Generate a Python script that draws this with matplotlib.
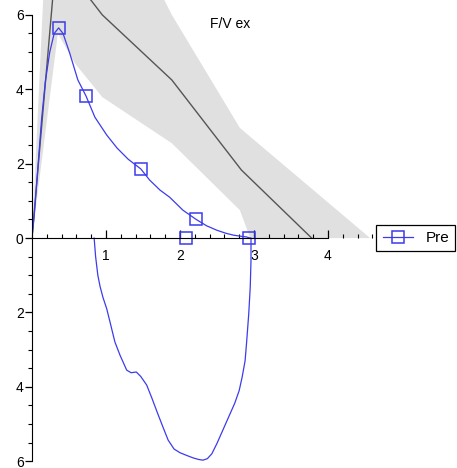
import numpy as np
import matplotlib.pyplot as plt
from matplotlib.ticker import MultipleLocator, FuncFormatter

# predicted curve (off the top of the chart near the peak)
pred_vol = [0.0, 0.33, 0.95, 1.89, 2.83, 3.78]
pred_flow = [0.0, 7.6, 6.0, 4.25, 1.83, 0.0]

# predicted normal band
band_up_vol = [0.0, 0.2, 1.0, 1.89, 2.81, 4.57]
band_up_flow = [0.0, 8.5, 9.5, 6.0, 2.96, 0.0]
band_lo_vol = [0.0, 0.35, 0.58, 0.95, 1.89, 2.81, 2.95]
band_lo_flow = [0.0, 5.5, 4.7, 3.79, 2.55, 0.75, 0.0]

# measured expiration (Pre)
ex_vol = [0.0, 0.03, 0.08, 0.13, 0.18, 0.24, 0.3, 0.36, 0.42, 0.51, 0.62, 0.73,
          0.85, 1.01, 1.15, 1.3, 1.47, 1.59, 1.73, 1.86, 2.04, 2.22, 2.36,
          2.5, 2.62, 2.72, 2.82, 2.9, 2.95]
ex_flow = [0.0, 0.6, 1.9, 3.2, 4.2, 5.0, 5.5, 5.65, 5.5, 4.97, 4.25, 3.82,
           3.25, 2.77, 2.42, 2.12, 1.86, 1.56, 1.29, 1.1, 0.75, 0.5, 0.33,
           0.21, 0.13, 0.08, 0.05, 0.03, 0.0]
ex_mark_vol = [0.36, 0.73, 1.47, 2.22, 2.93]
ex_mark_flow = [5.65, 3.82, 1.85, 0.5, 0.0]
fev1_vol = [2.08]
fev1_flow = [0.0]

# measured inspiration
in_vol = [0.84, 0.86, 0.89, 0.92, 0.96, 1.01, 1.06, 1.12, 1.19, 1.28, 1.34,
          1.41, 1.47, 1.55, 1.62, 1.69, 1.77, 1.84, 1.92, 2.0, 2.1, 2.18,
          2.25, 2.31, 2.37, 2.43, 2.5, 2.58, 2.66, 2.74, 2.8, 2.84, 2.88,
          2.9, 2.93, 2.95, 2.96, 2.96]
in_flow = [0.0, -0.5, -1.0, -1.3, -1.6, -1.9, -2.3, -2.79, -3.15, -3.55, -3.62,
           -3.6, -3.72, -3.95, -4.3, -4.67, -5.08, -5.43, -5.67, -5.77, -5.85, -5.91,
           -5.95, -5.97, -5.93, -5.8, -5.52, -5.16, -4.8, -4.44, -4.1, -3.74, -3.3,
           -2.82, -2.02, -1.3, -0.6, 0.0]

blue = '#3c3cec'

plt.rcParams['font.family'] = ['Liberation Sans', 'DejaVu Sans']
fig = plt.figure(figsize=(4.57, 4.68), dpi=100)
ax = fig.add_axes([0.07, 0.0064, 0.748, 0.9936])

# band polygon
poly_x = band_up_vol + band_lo_vol[::-1]
poly_y = band_up_flow + band_lo_flow[::-1]
ax.fill(poly_x, poly_y, color='#e0e0e0', lw=0, zorder=1)
ax.plot(pred_vol, pred_flow, color='#555555', lw=1.0, zorder=2)

ax.plot(ex_vol, ex_flow, color=blue, lw=0.9, zorder=3)
ax.plot(in_vol, in_flow, color=blue, lw=0.9, zorder=3)
ax.plot(ex_mark_vol, ex_mark_flow, ls='none', marker='s', ms=8, mfc='none',
        mec=blue, mew=1.1, zorder=4)
ax.plot(fev1_vol, fev1_flow, ls='none', marker='s', ms=8, mfc='none',
        mec=blue, mew=1.1, zorder=4)
# legend handle
ax.plot([], [], color=blue, lw=0.9, marker='s', ms=8, mfc='none', mec=blue,
        mew=1.1, label='Pre')

ax.set_xlim(0, 4.62)
ax.set_ylim(-6.1, 6.4)

for s in ['top', 'right']:
    ax.spines[s].set_visible(False)
ax.spines['bottom'].set_position(('data', 0))
ax.spines['bottom'].set_bounds(0, 4)
ax.spines['left'].set_bounds(-6, 6)
ax.spines['bottom'].set_zorder(5)
ax.spines['left'].set_zorder(5)

ax.xaxis.set_major_locator(MultipleLocator(1))
ax.xaxis.set_minor_locator(MultipleLocator(0.2))
ax.yaxis.set_major_locator(MultipleLocator(2))
ax.yaxis.set_minor_locator(MultipleLocator(0.5))
ax.set_xticks([1, 2, 3, 4])
ax.yaxis.set_major_formatter(FuncFormatter(lambda v, p: f'{abs(v):g}'))

ax.tick_params(axis='x', which='major', direction='in', length=6, width=0.9, labelsize=10, pad=8)
ax.tick_params(axis='x', which='minor', direction='in', length=3, width=0.8)
ax.tick_params(axis='y', which='major', direction='out', length=5, width=0.9, labelsize=10, pad=1)
ax.tick_params(axis='y', which='minor', direction='out', length=3, width=0.8)

ax.text(2.68, 5.75, 'F/V ex', ha='center', va='center', fontsize=10)

leg = fig.legend(loc='center', bbox_to_anchor=(0.91, 0.491), fontsize=11,
                 fancybox=False, framealpha=1, edgecolor='black',
                 handlelength=2.0, borderpad=0.4)
leg.get_frame().set_linewidth(0.9)

fig.savefig('out.png', dpi=100)
